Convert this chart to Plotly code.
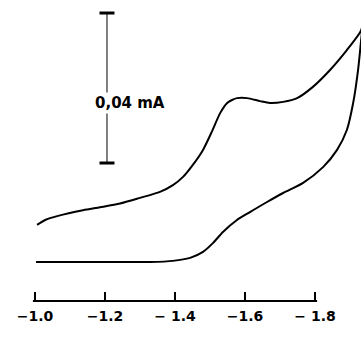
import plotly.graph_objects as go

# Cathodic sweep (lower branch), potential in V, current in mA
E_fwd = [-1.003, -1.186, -1.329, -1.394, -1.443, -1.480, -1.509, -1.537, -1.577,
         -1.614, -1.663, -1.709, -1.766, -1.823, -1.863, -1.891, -1.909, -1.923,
         -1.931, -1.937]
i_fwd = [0.0, 0.0, 0.0, 0.0003, 0.0011, 0.0027, 0.0051, 0.0080, 0.0112,
         0.0133, 0.0160, 0.0184, 0.0211, 0.0253, 0.0299, 0.0352, 0.0424, 0.0512,
         0.0584, 0.0640]

# Return sweep (upper branch)
E_rev = [-1.937, -1.931, -1.891, -1.843, -1.794, -1.749, -1.709, -1.671, -1.643,
         -1.606, -1.577, -1.563, -1.549, -1.529, -1.506, -1.480, -1.451, -1.423,
         -1.394, -1.357, -1.300, -1.243, -1.186, -1.137, -1.066, -1.029, -1.006]
i_rev = [0.0640, 0.0616, 0.0565, 0.0512, 0.0467, 0.0437, 0.0427, 0.0424, 0.0429,
         0.0437, 0.0437, 0.0432, 0.0424, 0.0397, 0.0349, 0.0299, 0.0259, 0.0227,
         0.0205, 0.0187, 0.0171, 0.0156, 0.0146, 0.0138, 0.0123, 0.0112, 0.0099]

tick_vals = [-1.0, -1.2, -1.4, -1.6, -1.8]
tick_text = ["\u22121.0", "\u22121.2", "\u2212 1.4", "\u22121.6", "\u2212 1.8"]

# Current scale bar
scale_E = -1.2057
scale_lo = 0.0264
scale_hi = 0.0664
scale_label = "0,04 mA"

x_title = "E(VOLTS)"

E = E_fwd + E_rev
I = i_fwd + i_rev

fig = go.Figure()
fig.add_trace(go.Scatter(
    x=E, y=I, mode="lines",
    line=dict(color="black", width=2, shape="spline", smoothing=0.7),
    hoverinfo="skip", showlegend=False,
))

cap = 0.0214
shapes = [
    # scale bar stem and caps
    dict(type="line", xref="x", yref="y", x0=scale_E, x1=scale_E,
         y0=scale_lo, y1=scale_hi, line=dict(color="black", width=1)),
    dict(type="line", xref="x", yref="y", x0=scale_E - cap, x1=scale_E + cap,
         y0=scale_hi, y1=scale_hi, line=dict(color="black", width=3)),
    dict(type="line", xref="x", yref="y", x0=scale_E - cap, x1=scale_E + cap,
         y0=scale_lo, y1=scale_lo, line=dict(color="black", width=3)),
    # potential axis line
    dict(type="line", xref="x", yref="paper", x0=-0.994, x1=-1.806,
         y0=0, y1=0, line=dict(color="black", width=2)),
]

annotations = [
    dict(x=-1.270, y=0.0424, xref="x", yref="y", text=scale_label,
         showarrow=False, bgcolor="white", borderpad=1,
         font=dict(family="DejaVu Sans", size=15, color="black", weight="bold")),
    dict(x=-1.3457, y=-0.0192, xref="x", yref="y", text=x_title,
         showarrow=False,
         font=dict(family="DejaVu Sans", size=14, color="black", weight="bold")),
]

fig.update_layout(
    width=361, height=352,
    margin=dict(l=0, r=0, t=0, b=51),
    paper_bgcolor="white", plot_bgcolor="white",
    shapes=shapes, annotations=annotations,
    xaxis=dict(range=[-0.9, -1.93143], tickvals=tick_vals, ticktext=tick_text,
               ticks="inside", ticklen=9, tickwidth=2, tickcolor="black",
               ticklabelstandoff=5,
               showgrid=False, zeroline=False, showline=False,
               tickfont=dict(family="DejaVu Sans", size=14, color="black",
                             weight="bold")),
    yaxis=dict(range=[-0.0104, 0.06987], visible=False, showgrid=False,
               zeroline=False),
)

fig.write_html("out.html")
